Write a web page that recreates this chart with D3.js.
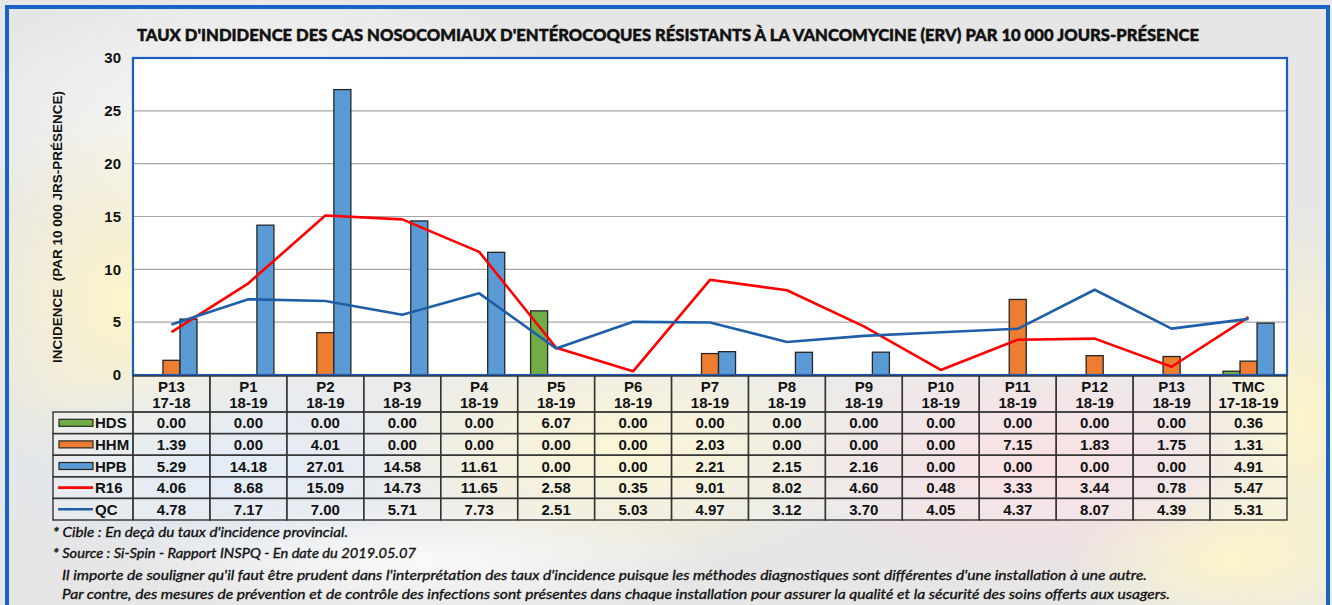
<!DOCTYPE html>
<html>
<head>
<meta charset="utf-8">
<script src="https://cdn.jsdelivr.net/npm/d3@7"></script>
<style>
    body { margin: 0; background: #fff; }
    svg { display: block; }
    .tick text { font-family: "Liberation Sans", Arial, sans-serif; font-weight: bold; font-size: 15px; fill: #111; }
    .cell-text { font-family: "Liberation Sans", Arial, sans-serif; font-weight: bold; font-size: 15px; fill: #111; }
    .note { font-family: "Lato", "DejaVu Sans", sans-serif; font-style: italic; font-size: 13.5px; fill: #111; stroke: #111; stroke-width: 0.35px; }
</style>
</head>
<body>
<div id="chart"></div>
<script>
    // données
    var periods = ["P13", "P1", "P2", "P3", "P4", "P5", "P6", "P7", "P8", "P9", "P10", "P11", "P12", "P13", "TMC"];
    var years = ["17-18", "18-19", "18-19", "18-19", "18-19", "18-19", "18-19", "18-19", "18-19", "18-19", "18-19", "18-19", "18-19", "18-19", "17-18-19"];
    var hds = [0.00, 0.00, 0.00, 0.00, 0.00, 6.07, 0.00, 0.00, 0.00, 0.00, 0.00, 0.00, 0.00, 0.00, 0.36];
    var hhm = [1.39, 0.00, 4.01, 0.00, 0.00, 0.00, 0.00, 2.03, 0.00, 0.00, 0.00, 7.15, 1.83, 1.75, 1.31];
    var hpb = [5.29, 14.18, 27.01, 14.58, 11.61, 0.00, 0.00, 2.21, 2.15, 2.16, 0.00, 0.00, 0.00, 0.00, 4.91];
    var r16 = [4.06, 8.68, 15.09, 14.73, 11.65, 2.58, 0.35, 9.01, 8.02, 4.60, 0.48, 3.33, 3.44, 0.78, 5.47];
    var qc = [4.78, 7.17, 7.00, 5.71, 7.73, 2.51, 5.03, 4.97, 3.12, 3.70, 4.05, 4.37, 8.07, 4.39, 5.31];
    var yTicks = [0, 5, 10, 15, 20, 25, 30];

    var barSeries = [
        { name: "HDS", values: hds, color: "#70ad47" },
        { name: "HHM", values: hhm, color: "#ed7d31" },
        { name: "HPB", values: hpb, color: "#5b9bd5" }
    ];
    var lineSeries = [
        { name: "R16", values: r16, color: "#ff0000" },
        { name: "QC", values: qc, color: "#1f5fa8" }
    ];
    var rows = barSeries.concat(lineSeries);

    var W = 1332, H = 605;
    var plot = { left: 133, right: 1287, top: 58, bottom: 375 };
    var keys = periods.map(function (p, i) { return i; });

    var svg = d3.select("#chart").append("svg")
        .attr("width", W)
        .attr("height", H);

    // fond
    var defs = svg.append("defs");
    function blob(id, color, op) {
        var g = defs.append("radialGradient").attr("id", id);
        g.append("stop").attr("offset", "0%").attr("stop-color", color).attr("stop-opacity", op);
        g.append("stop").attr("offset", "100%").attr("stop-color", color).attr("stop-opacity", 0);
    }
    blob("bYellow", "#fff6c8", 0.9);
    blob("bBlue", "#dbe8f8", 0.9);
    blob("bPink", "#ffd6dc", 0.8);
    blob("bWhite", "#ffffff", 0.8);

    svg.append("rect").attr("width", W).attr("height", H).attr("fill", "#e6e6e6");
    var blobs = [
        { id: "bWhite", cx: 260, cy: 120, rx: 330, ry: 140 },
        { id: "bYellow", cx: 120, cy: 300, rx: 160, ry: 200 },
        { id: "bBlue", cx: 230, cy: 470, rx: 260, ry: 110 },
        { id: "bYellow", cx: 620, cy: 450, rx: 260, ry: 120 },
        { id: "bWhite", cx: 420, cy: 560, rx: 300, ry: 60 },
        { id: "bPink", cx: 1040, cy: 460, rx: 260, ry: 130 },
        { id: "bYellow", cx: 1300, cy: 420, rx: 120, ry: 220 },
        { id: "bYellow", cx: 1230, cy: 560, rx: 160, ry: 80 }
    ];
    svg.append("g").selectAll("ellipse").data(blobs).join("ellipse")
        .attr("cx", function (d) { return d.cx; })
        .attr("cy", function (d) { return d.cy; })
        .attr("rx", function (d) { return d.rx; })
        .attr("ry", function (d) { return d.ry; })
        .attr("fill", function (d) { return "url(#" + d.id + ")"; });

    // cadre bleu
    svg.append("rect")
        .attr("x", 7).attr("y", 7)
        .attr("width", 1321).attr("height", 620)
        .attr("fill", "none")
        .attr("stroke", "#1763c6")
        .attr("stroke-width", 4);

    // titre
    svg.append("text")
        .attr("x", 137).attr("y", 41)
        .attr("textLength", 1062)
        .attr("lengthAdjust", "spacingAndGlyphs")
        .style("font-family", "Lato, 'Open Sans', sans-serif")
        .style("font-weight", "900")
        .style("font-size", "17.5px")
        .attr("fill", "#111")
        .attr("stroke", "#111")
        .attr("stroke-width", 0.5)
        .text("TAUX D'INDIDENCE DES CAS NOSOCOMIAUX D'ENTÉROCOQUES RÉSISTANTS À LA VANCOMYCINE (ERV) PAR 10 000 JOURS-PRÉSENCE");

    // échelles
    var x = d3.scaleBand().domain(keys).range([plot.left, plot.right]).padding(0);
    var xSub = d3.scaleBand().domain(barSeries.map(function (s) { return s.name; }))
        .range([0, x.bandwidth()]).paddingInner(0).paddingOuter(0.76);
    var y = d3.scaleLinear().domain([0, 30]).range([plot.bottom, plot.top]);

    // zone de tracé
    svg.append("rect")
        .attr("x", plot.left).attr("y", plot.top)
        .attr("width", plot.right - plot.left).attr("height", plot.bottom - plot.top)
        .attr("fill", "#fff");

    svg.append("g").selectAll("line").data(yTicks.slice(1, -1)).join("line")
        .attr("x1", plot.left).attr("x2", plot.right)
        .attr("y1", function (d) { return y(d); })
        .attr("y2", function (d) { return y(d); })
        .attr("stroke", "#a6a6a6")
        .attr("stroke-width", 1.2);

    // barres
    barSeries.forEach(function (s) {
        svg.append("g").selectAll("rect")
            .data(s.values.map(function (v, i) { return { i: i, v: v }; }).filter(function (d) { return d.v > 0; }))
            .join("rect")
            .attr("x", function (d) { return x(d.i) + xSub(s.name); })
            .attr("y", function (d) { return y(d.v); })
            .attr("width", xSub.bandwidth())
            .attr("height", function (d) { return y(0) - y(d.v); })
            .attr("fill", s.color)
            .attr("stroke", "#262626")
            .attr("stroke-width", 1.3);
    });

    // courbes
    lineSeries.forEach(function (s) {
        var line = d3.line()
            .x(function (d, i) { return x(i) + x.bandwidth() / 2; })
            .y(function (d) { return y(d); });
        svg.append("path")
            .datum(s.values)
            .attr("d", line)
            .attr("fill", "none")
            .attr("stroke", s.color)
            .attr("stroke-width", 2.6)
            .attr("stroke-linejoin", "round");
    });

    svg.append("rect")
        .attr("x", plot.left).attr("y", plot.top)
        .attr("width", plot.right - plot.left).attr("height", plot.bottom - plot.top)
        .attr("fill", "none")
        .attr("stroke", "#1a5cc0")
        .attr("stroke-width", 2.2);

    // axe y
    var yAxis = svg.append("g")
        .attr("transform", "translate(" + (plot.left - 12) + ",0)")
        .call(d3.axisLeft(y).tickValues(yTicks).tickSize(0).tickPadding(0));
    yAxis.select(".domain").remove();

    svg.append("text")
        .attr("transform", "translate(62,227) rotate(-90)")
        .attr("text-anchor", "middle")
        .attr("textLength", 272)
        .attr("lengthAdjust", "spacingAndGlyphs")
        .style("white-space", "pre")
        .style("font-family", "'Liberation Sans', Arial, sans-serif")
        .style("font-weight", "bold")
        .style("font-size", "13.5px")
        .attr("fill", "#111")
        .text("INCIDENCE  (PAR 10 000 JRS-PRÉSENCE)");

    // tableau
    var headTop = plot.bottom + 1, headBottom = 412, rowH = 21.6, legLeft = 53;
    var tbl = svg.append("g");

    // en-têtes
    keys.forEach(function (i) {
        tbl.append("rect")
            .attr("x", x(i)).attr("y", headTop)
            .attr("width", x.bandwidth()).attr("height", headBottom - headTop)
            .attr("fill", "rgba(255,255,255,0.2)")
            .attr("stroke", "#333").attr("stroke-width", 1.4);
        tbl.append("text").attr("class", "cell-text")
            .attr("x", x(i) + x.bandwidth() / 2).attr("y", 392)
            .attr("text-anchor", "middle").text(periods[i]);
        tbl.append("text").attr("class", "cell-text")
            .attr("x", x(i) + x.bandwidth() / 2).attr("y", 408)
            .attr("text-anchor", "middle").text(years[i]);
    });

    rows.forEach(function (s, r) {
        var top = headBottom + r * rowH;
        var mid = top + rowH / 2;
        tbl.append("rect")
            .attr("x", legLeft).attr("y", top)
            .attr("width", plot.left - legLeft).attr("height", rowH)
            .attr("fill", "rgba(255,255,255,0.2)")
            .attr("stroke", "#333").attr("stroke-width", 1.4);
        if (r < barSeries.length) {
            tbl.append("rect")
                .attr("x", 59).attr("y", mid - 3.5)
                .attr("width", 34).attr("height", 7)
                .attr("fill", s.color)
                .attr("stroke", "#262626").attr("stroke-width", 1.2);
        } else {
            tbl.append("line")
                .attr("x1", 58).attr("x2", 93)
                .attr("y1", mid).attr("y2", mid)
                .attr("stroke", s.color).attr("stroke-width", 2.6);
        }
        tbl.append("text").attr("class", "cell-text")
            .attr("x", 95).attr("y", mid + 5.5)
            .text(s.name);
        s.values.forEach(function (v, i) {
            tbl.append("rect")
                .attr("x", x(i)).attr("y", top)
                .attr("width", x.bandwidth()).attr("height", rowH)
                .attr("fill", "rgba(255,255,255,0.2)")
                .attr("stroke", "#333").attr("stroke-width", 1.4);
            tbl.append("text").attr("class", "cell-text")
                .attr("x", x(i) + x.bandwidth() / 2).attr("y", mid + 5.5)
                .attr("text-anchor", "middle")
                .text(v.toFixed(2));
        });
    });

    // notes
    var notes = [
        { t: "* Cible : En deçà du taux d'incidence provincial.", x: 53, y: 537, w: 295 },
        { t: "* Source : Si-Spin - Rapport INSPQ - En date du 2019.05.07", x: 53, y: 558, w: 363 },
        { t: "Il importe de souligner qu'il faut être prudent dans l'interprétation des taux d'incidence puisque les méthodes diagnostiques sont différentes d'une installation à une autre.", x: 62, y: 580, w: 1085 },
        { t: "Par contre, des mesures de prévention et de contrôle des infections sont présentes dans chaque installation pour assurer la qualité et la sécurité des soins offerts aux usagers.", x: 62, y: 599, w: 1108 }
    ];
    svg.append("g").selectAll("text").data(notes).join("text")
        .attr("class", "note")
        .attr("x", function (d) { return d.x; })
        .attr("y", function (d) { return d.y; })
        .attr("textLength", function (d) { return d.w; })
        .attr("lengthAdjust", "spacingAndGlyphs")
        .text(function (d) { return d.t; });
</script>
</body>
</html>
